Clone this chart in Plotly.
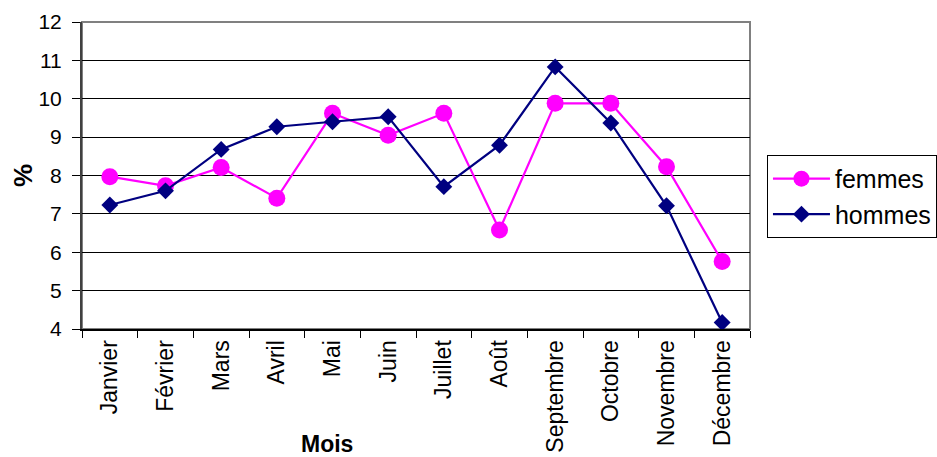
import plotly.graph_objects as go

mois = ["Janvier", "Février", "Mars", "Avril", "Mai", "Juin", "Juillet",
        "Août", "Septembre", "Octobre", "Novembre", "Décembre"]
femmes = [7.97, 7.73, 8.21, 7.41, 9.62, 9.05, 9.62, 6.58, 9.88, 9.88, 8.23, 5.76]
hommes = [7.23, 7.60, 8.68, 9.27, 9.40, 9.53, 7.71, 8.79, 10.83, 9.37, 7.21, 4.17]

fig = go.Figure()
fig.add_trace(go.Scatter(
    x=mois, y=femmes, name="femmes", mode="lines+markers",
    line=dict(color="#FF00FF", width=2.2),
    marker=dict(symbol="circle", size=17, color="#FF00FF"),
    cliponaxis=False,
))
fig.add_trace(go.Scatter(
    x=mois, y=hommes, name="hommes", mode="lines+markers",
    line=dict(color="#000080", width=2.2),
    marker=dict(symbol="diamond", size=13, color="#000080"),
    cliponaxis=False,
))

fig.update_layout(
    width=937, height=457,
    margin=dict(l=82, r=187, t=22, b=128, autoexpand=False),
    paper_bgcolor="white", plot_bgcolor="white",
    font=dict(family="Arial, Liberation Sans, sans-serif", size=16, color="black"),
    showlegend=True,
    legend=dict(
        x=1.0254, y=0.432, xanchor="left", yanchor="middle",
        bordercolor="black", borderwidth=1,
        font=dict(size=25, color="black"),
        tracegroupgap=0, itemwidth=57,
    ),
    xaxis=dict(
        type="category", range=[-0.5, len(mois) - 0.5],
        tickangle=-90, tickson="boundaries",
        ticks="outside", ticklen=7, tickcolor="black", tickwidth=1,
        showline=True, linecolor="black", linewidth=2,
        showgrid=False, automargin=False,
        tickfont=dict(size=23),
    ),
    yaxis=dict(
        range=[4, 12], dtick=1, tick0=4,
        ticks="outside", ticklen=8, tickcolor="black", tickwidth=1,
        showline=True, linecolor="#404040", linewidth=2,
        showgrid=True, gridcolor="black", gridwidth=1,
        zeroline=False, automargin=False,
        tickfont=dict(size=21), ticklabelstandoff=6,
    ),
    annotations=[
        dict(text="<b>Mois</b>", xref="paper", yref="paper", x=0.367, y=-0.376,
             showarrow=False, xanchor="center", yanchor="middle",
             font=dict(size=23)),
        dict(text="<b>%</b>", xref="paper", yref="paper", x=-0.0892, y=0.5,
             showarrow=False, xanchor="center", yanchor="middle", textangle=-90,
             font=dict(size=26)),
    ],
)

# grey frame on top/right
fig.add_shape(type="rect", xref="paper", yref="paper", x0=0, y0=0, x1=1, y1=1,
              line=dict(color="#808080", width=2), layer="below")

fig.write_html("out.html",
               config={"displayModeBar": False},
               post_script="document.body.style.margin='0';document.body.style.overflow='hidden';")
